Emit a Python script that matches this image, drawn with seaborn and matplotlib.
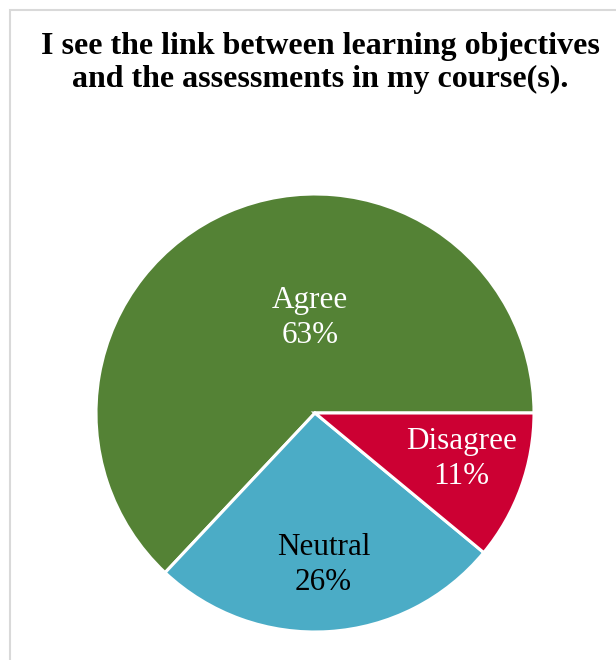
import matplotlib
matplotlib.use("Agg")
import matplotlib.pyplot as plt
import seaborn as sns
from matplotlib.patches import Rectangle

sns.set_theme(style="white")
plt.rcParams["font.family"] = ["Liberation Serif", "DejaVu Serif"]

# Survey responses
categories = ["Agree", "Neutral", "Disagree"]
shares = [63, 26, 11]
colors = ["#548235", "#4BACC6", "#CC0033"]
label_colors = ["white", "black", "white"]
# label centres in pie-radius units
label_pos = [(-0.023, 0.435), (0.039, -0.695), (0.669, -0.209)]

title = "I see the link between learning objectives\nand the assessments in my course(s)."

fig = plt.figure(figsize=(6.16, 6.6), dpi=100)
fig.patch.set_facecolor("white")

# chart area border
fig.patches.append(Rectangle((10 / 616, -0.05), 1.1, 1 - 10 / 660 + 0.05,
                             transform=fig.transFigure, fill=False,
                             edgecolor="#D9D9D9", linewidth=1.5))

cx, cy, r = 315, 413, 219
ax = fig.add_axes([(cx - r) / 616, (660 - cy - r) / 660, 2 * r / 616, 2 * r / 660])
wedges, _ = ax.pie(shares, colors=colors, startangle=0, counterclock=True,
                   radius=1.0, wedgeprops=dict(edgecolor="white", linewidth=2.2))
ax.set_xlim(-1.0, 1.0)
ax.set_ylim(-1.0, 1.0)
ax.set_aspect("equal")
ax.axis("off")

for name, val, (x, y), c in zip(categories, shares, label_pos, label_colors):
    ax.text(x, y, f"{name}\n{val}%", ha="center", va="center", color=c,
            fontsize=22.4, linespacing=1.28)

fig.text(320 / 616, 1 - 63 / 660, title, ha="center", va="center",
         fontsize=23, fontweight="bold", color="black", linespacing=1.15)

fig.savefig("out.png", dpi=100, facecolor="white")
